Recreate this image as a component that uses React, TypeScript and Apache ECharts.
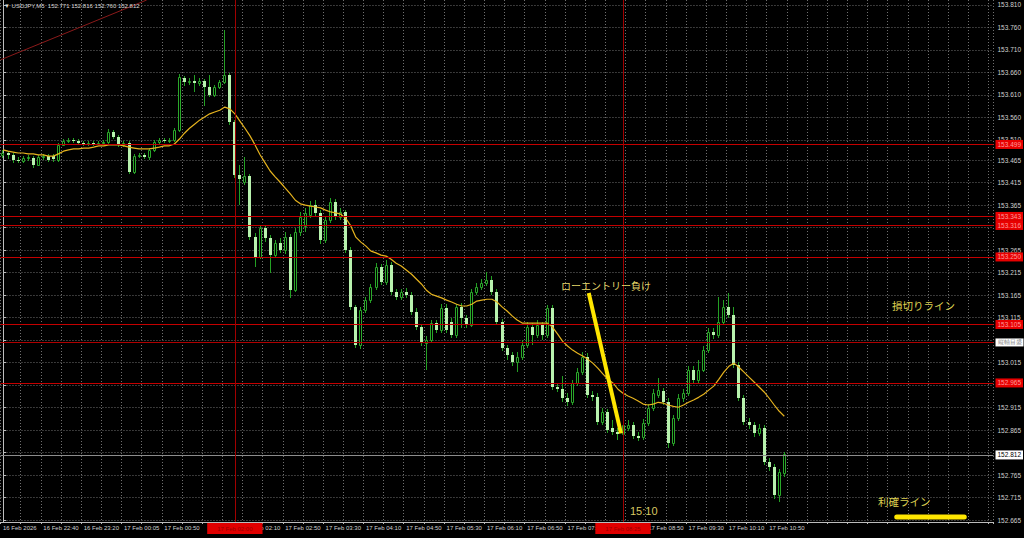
import React, { useEffect, useRef } from 'react';
import * as echarts from 'echarts';

// ---- data ----
const HEADER = '▼ USDJPY,M5  152.771 152.816 152.760 152.812';
const CATEGORY_COUNT = 197;
const START_MINUTES = 22 * 60; // 16 Feb 22:00
const SKIPPED_TIMES = ['00:00', '00:40'];

// [open, close, low, high]
const candles: number[][] = [
  [153.477,153.481,153.470,153.488],[153.481,153.477,153.468,153.486],[153.477,153.465,153.458,153.481],[153.465,153.463,153.458,153.472],
  [153.463,153.470,153.458,153.474],[153.470,153.472,153.463,153.477],[153.470,153.454,153.448,153.474],[153.454,153.472,153.452,153.477],
  [153.472,153.474,153.465,153.479],[153.474,153.465,153.461,153.479],[153.474,153.468,153.461,153.479],[153.465,153.499,153.461,153.504],
  [153.499,153.508,153.497,153.512],[153.508,153.510,153.503,153.514],[153.510,153.508,153.503,153.514],[153.508,153.503,153.499,153.512],
  [153.503,153.501,153.497,153.508],[153.501,153.503,153.497,153.508],[153.503,153.501,153.497,153.508],[153.501,153.503,153.499,153.508],
  [153.503,153.506,153.499,153.510],[153.506,153.528,153.501,153.534],[153.528,153.516,153.512,153.532],[153.516,153.499,153.494,153.521],
  [153.499,153.503,153.494,153.508],[153.503,153.439,153.434,153.508],[153.439,153.474,153.434,153.479],[153.474,153.477,153.470,153.481],
  [153.477,153.472,153.468,153.481],[153.472,153.488,153.465,153.492],[153.488,153.506,153.483,153.510],[153.506,153.510,153.501,153.514],
  [153.510,153.508,153.503,153.514],[153.508,153.510,153.503,153.514],[153.510,153.532,153.506,153.537],[153.532,153.649,153.528,153.656],
  [153.648,153.639,153.630,153.652],[153.639,153.641,153.632,153.648],[153.641,153.636,153.616,153.654],[153.636,153.641,153.630,153.648],
  [153.641,153.628,153.585,153.645],[153.628,153.610,153.605,153.654],[153.610,153.628,153.605,153.632],[153.628,153.639,153.623,153.643],
  [153.639,153.654,153.634,153.754],[153.654,153.550,153.543,153.659],[153.550,153.432,153.425,153.554],[153.432,153.423,153.365,153.454],
  [153.416,153.430,153.410,153.472],[153.430,153.294,153.287,153.434],[153.294,153.250,153.227,153.303],[153.250,153.314,153.245,153.321],
  [153.314,153.292,153.283,153.321],[153.292,153.254,153.214,153.299],[153.254,153.281,153.247,153.287],[153.281,153.265,153.258,153.292],
  [153.265,153.294,153.256,153.305],[153.294,153.176,153.159,153.301],[153.176,153.305,153.172,153.314],[153.305,153.339,153.296,153.350],
  [153.319,153.348,153.305,153.359],[153.343,153.365,153.336,153.374],[153.365,153.348,153.341,153.376],[153.348,153.287,153.279,153.354],
  [153.287,153.332,153.281,153.341],[153.332,153.372,153.325,153.381],[153.372,153.339,153.332,153.379],[153.339,153.350,153.332,153.359],
  [153.350,153.265,153.258,153.354],[153.265,153.139,153.132,153.272],[153.139,153.054,153.047,153.143],[153.054,153.132,153.045,153.139],
  [153.132,153.154,153.125,153.161],[153.154,153.183,153.147,153.190],[153.183,153.227,153.176,153.236],[153.227,153.194,153.187,153.234],
  [153.194,153.232,153.187,153.243],[153.232,153.172,153.165,153.239],[153.172,153.161,153.154,153.179],[153.161,153.172,153.154,153.179],
  [153.172,153.165,153.159,153.181],[153.165,153.127,153.121,153.172],[153.127,153.094,153.087,153.136],[153.094,153.058,153.052,153.101],
  [153.058,153.065,152.998,153.074],[153.065,153.103,153.058,153.110],[153.103,153.087,153.081,153.110],[153.087,153.136,153.081,153.145],
  [153.136,153.087,153.081,153.145],[153.105,153.076,153.070,153.114],[153.076,153.139,153.070,153.145],[153.139,153.114,153.092,153.148],
  [153.114,153.098,153.092,153.121],[153.098,153.172,153.094,153.179],[153.172,153.183,153.165,153.192],[153.183,153.192,153.176,153.201],
  [153.192,153.199,153.185,153.216],[153.199,153.172,153.165,153.208],[153.172,153.105,153.098,153.179],[153.105,153.047,153.041,153.112],
  [153.047,153.032,153.021,153.054],[153.032,153.016,153.007,153.038],[153.016,153.027,152.994,153.038],[153.027,153.054,153.021,153.065],
  [153.054,153.094,153.047,153.105],[153.094,153.076,153.054,153.103],[153.076,153.098,153.070,153.110],[153.098,153.076,153.065,153.105],
  [153.076,153.136,153.070,153.143],[153.136,152.961,152.954,153.143],[152.961,152.956,152.950,152.970],[152.956,152.936,152.927,152.985],
  [152.936,152.927,152.918,152.947],[152.927,152.970,152.921,152.976],[152.970,152.994,152.963,153.003],[152.994,153.027,152.987,153.038],
  [153.027,152.943,152.936,153.036],[152.943,152.939,152.930,152.952],[152.939,152.883,152.876,152.947],[152.883,152.905,152.876,152.914],
  [152.905,152.865,152.858,152.912],[152.870,152.861,152.854,152.887],[152.861,152.856,152.843,152.870],[152.856,152.876,152.850,152.885],
  [152.870,152.876,152.863,152.887],[152.876,152.852,152.845,152.883],[152.852,152.847,152.841,152.861],[152.850,152.881,152.843,152.890],
  [152.881,152.914,152.874,152.923],[152.914,152.947,152.907,152.956],[152.943,152.954,152.936,152.981],[152.952,152.927,152.921,152.959],
  [152.927,152.836,152.825,152.936],[152.836,152.892,152.830,152.898],[152.892,152.936,152.885,152.945],[152.936,152.947,152.927,152.956],
  [152.947,152.998,152.941,153.007],[152.998,152.976,152.967,153.007],[152.976,152.998,152.970,153.021],[152.998,153.043,152.994,153.052],
  [153.043,153.083,153.036,153.092],[153.083,153.076,153.067,153.092],[153.076,153.105,153.070,153.161],[153.105,153.139,153.098,153.154],
  [153.139,153.121,153.114,153.170],[153.121,153.010,153.003,153.139],[153.010,152.936,152.930,153.016],[152.936,152.883,152.876,152.943],
  [152.883,152.876,152.867,152.892],[152.876,152.858,152.850,152.883],[152.858,152.870,152.852,152.878],[152.870,152.794,152.787,152.876],
  [152.794,152.783,152.774,152.803],[152.783,152.721,152.712,152.790],[152.721,152.772,152.705,152.778],[152.771,152.812,152.760,152.816],
];

const maValues: number[] = [
  153.488,153.485,153.483,153.481,153.481,153.479,153.479,153.477,153.477,153.474,153.474,153.479,153.485,153.488,153.490,153.490,
  153.492,153.492,153.494,153.497,153.497,153.499,153.499,153.499,153.497,153.494,153.492,153.490,153.490,153.490,153.492,153.494,
  153.497,153.497,153.501,153.512,153.525,153.536,153.545,153.554,153.561,153.568,153.572,153.576,153.583,153.579,153.568,153.552,
  153.536,153.519,153.499,153.477,153.459,153.441,153.428,153.416,153.403,153.390,153.376,153.368,153.365,153.363,153.361,153.359,
  153.354,153.350,153.348,153.345,153.336,153.319,153.294,153.283,153.274,153.263,153.259,153.254,153.252,153.245,153.236,153.230,
  153.221,153.212,153.201,153.190,153.176,153.167,153.163,153.159,153.154,153.150,153.145,153.141,153.141,153.145,153.152,153.154,
  153.156,153.156,153.150,153.139,153.130,153.119,153.110,153.103,153.103,153.103,153.103,153.103,153.103,153.094,153.079,153.063,
  153.052,153.043,153.036,153.030,153.023,153.014,153.003,152.990,152.978,152.970,152.956,152.947,152.941,152.936,152.930,152.923,
  152.921,152.923,152.927,152.925,152.921,152.918,152.916,152.921,152.927,152.932,152.938,152.945,152.954,152.963,152.978,152.994,
  153.007,153.014,153.005,152.994,152.983,152.972,152.961,152.950,152.936,152.921,152.907,152.896,
];

const Y_MIN = 152.661;
const Y_MAX = 153.821;
const gridPrices = [153.810,153.760,153.710,153.660,153.610,153.560,153.510,153.465,153.415,153.365,153.315,153.265,153.215,153.165,153.115,153.065,153.015,152.965,152.915,152.865,152.815,152.765,152.715,152.665];
const labelPrices = [153.810,153.760,153.710,153.660,153.610,153.560,153.510,153.465,153.415,153.365,153.265,153.215,153.165,153.115,153.015,152.915,152.865,152.765,152.715,152.665];
const redLevels = [153.499, 153.343, 153.316, 153.250, 153.105, 152.965];
const noteLevel = 153.058;
const noteText = '縦軸目盛';
const bidPrice = 152.812;
const verticalLines = [
  { index: 46, label: '17 Feb 02:00' },
  { index: 123, label: '17 Feb 08:25' },
];
// time labels hidden behind the vertical-line time boxes
const coveredLabelIndexes = [40, 120];
// annotation drawings: [barPosition, price]
const entryStroke = [[116.2, 153.170], [122.6, 152.858]];
const takeProfitStroke = [[177.3, 152.672], [190.7, 152.672]];
const trendLine = [[-0.5, 153.688], [28.5, 153.821]];

const LAST_INDEX = candles.length - 1;

function buildTimes(n: number) {
  const out: { day: number; hm: string }[] = [];
  let t = START_MINUTES;
  while (out.length < n) {
    const day = 16 + Math.floor(t / 1440);
    const m = t % 1440;
    const hm = String(Math.floor(m / 60)).padStart(2, '0') + ':' + String(m % 60).padStart(2, '0');
    t += 5;
    if (day === 17 && SKIPPED_TIMES.includes(hm) && t < 1440 + 120) continue;
    out.push({ day, hm });
  }
  return out;
}
const timeInfo = buildTimes(CATEGORY_COUNT);
const times = timeInfo.map((t) => `${t.day} ${t.hm}`);

const AXIS_FONT = 'Liberation Sans, Arial, sans-serif';
const CJK_FONT = '"Noto Sans CJK JP", "Noto Sans", sans-serif';

export default function App() {
  const ref = useRef<HTMLDivElement>(null);
  useEffect(() => {
    if (!ref.current) return;
    const chart = echarts.init(ref.current, undefined, { renderer: 'svg' });

    const candleData = candles.map((c, i) => [i, c[0], c[1], c[2], c[3]]);

    const priceBox = (text: string, bg: string, fg: string, size = 6.5) => ({
      show: true,
      position: 'end',
      formatter: text,
      backgroundColor: bg,
      color: fg,
      fontSize: size,
      fontFamily: AXIS_FONT,
      padding: [1, 2, 1, 2],
      distance: 2,
    });

    const option: any = {
      animation: false,
      backgroundColor: '#000000',
      grid: { left: 0, right: 30, top: 0, bottom: 16, containLabel: false },
      xAxis: [
        {
          type: 'category',
          data: times,
          boundaryGap: true,
          axisLine: { show: true, lineStyle: { color: '#bdbdbd', width: 1 } },
          axisTick: { show: true, interval: 3, length: 2, lineStyle: { color: '#bdbdbd' } },
          axisLabel: {
            interval: 7,
            align: 'left',
            margin: 3,
            fontSize: 6,
            color: '#d0d0d0',
            fontFamily: AXIS_FONT,
            formatter: (_v: string, i: number) => {
              if (i > LAST_INDEX || coveredLabelIndexes.includes(i)) return '';
              if (i === 0) return '16 Feb 2026';
              const t = timeInfo[i];
              return `${t.day} Feb ${t.hm}`;
            },
          },
          splitLine: { show: true, interval: 3, lineStyle: { color: '#707070', width: 1, type: [1, 2] } },
        },
        { type: 'value', min: -0.5, max: CATEGORY_COUNT - 0.5, show: false },
      ],
      yAxis: {
        type: 'value',
        position: 'right',
        min: Y_MIN,
        max: Y_MAX,
        axisLine: { show: true, lineStyle: { color: '#bdbdbd', width: 1 } },
        axisTick: { show: true, customValues: gridPrices, length: 3, lineStyle: { color: '#bdbdbd' } },
        axisLabel: {
          customValues: labelPrices,
          formatter: (v: number) => v.toFixed(3),
          fontSize: 6.5,
          color: '#d0d0d0',
          fontFamily: AXIS_FONT,
          margin: 4,
        },
        splitLine: { show: true, lineStyle: { color: '#707070', width: 1, type: [1, 2] } },
      },
      series: [
        {
          type: 'custom',
          name: 'candles',
          xAxisIndex: 0,
          data: candleData,
          encode: { x: 0, y: [1, 2, 3, 4] },
          clip: true,
          z: 3,
          renderItem: (_p: any, api: any) => {
            const i = api.value(0);
            const o = api.value(1);
            const c = api.value(2);
            const l = api.value(3);
            const h = api.value(4);
            const po = api.coord([i, o]);
            const pc = api.coord([i, c]);
            const pl = api.coord([i, l]);
            const ph = api.coord([i, h]);
            const cx = Math.floor(po[0]) + 0.5;
            const top = Math.round(Math.min(po[1], pc[1]));
            const bot = Math.round(Math.max(po[1], pc[1]));
            const bull = c >= o;
            const wick = {
              type: 'line',
              shape: { x1: cx, y1: Math.round(ph[1]), x2: cx, y2: Math.round(pl[1]) },
              style: { stroke: '#23a023', lineWidth: 1 },
            };
            const body = bull
              ? {
                  type: 'rect',
                  shape: { x: cx - 1, y: top + 0.5, width: 2, height: Math.max(1, bot - top) },
                  style: { fill: '#000000', stroke: '#2aa82a', lineWidth: 1 },
                }
              : {
                  type: 'rect',
                  shape: { x: cx - 1.5, y: top, width: 3, height: Math.max(1, bot - top) },
                  style: { fill: '#b8f2ae', stroke: 'none' },
                };
            return { type: 'group', children: [wick, body] };
          },
        },
        {
          type: 'line',
          name: 'MA',
          data: maValues,
          symbol: 'none',
          z: 4,
          lineStyle: { color: '#e6b31e', width: 1.2 },
          markLine: {
            silent: true,
            symbol: ['none', 'none'],
            animation: false,
            data: [
              ...redLevels.map((v) => ({
                yAxis: v,
                lineStyle: { color: '#c40000', width: 1, type: 'solid' },
                label: priceBox(v.toFixed(3), '#e80000', '#ff9a9a'),
              })),
              {
                yAxis: noteLevel,
                lineStyle: { color: '#b00000', width: 1, type: 'solid' },
                label: priceBox(noteText, '#ffffff', '#8a8a8a', 5.5),
              },
              {
                yAxis: bidPrice,
                lineStyle: { color: '#8c8c8c', width: 1, type: 'solid' },
                label: priceBox(bidPrice.toFixed(3), '#ffffff', '#000000'),
              },
              ...verticalLines.map((v) => ({
                xAxis: times[v.index],
                lineStyle: { color: '#a00000', width: 1, type: 'solid' },
                label: {
                  show: true,
                  position: 'start',
                  formatter: v.label,
                  backgroundColor: '#e00000',
                  color: '#9a0000',
                  fontSize: 6,
                  fontFamily: AXIS_FONT,
                  padding: [3, 10, 2, 10],
                  distance: 1,
                },
              })),
            ],
          },
        },
        {
          type: 'line',
          name: 'trend',
          xAxisIndex: 1,
          data: trendLine,
          symbol: 'none',
          z: 2,
          lineStyle: { color: '#8b1a1a', width: 1 },
        },
        {
          type: 'line',
          name: 'entry',
          xAxisIndex: 1,
          data: entryStroke,
          symbol: 'none',
          z: 6,
          lineStyle: { color: '#ffe600', width: 4, cap: 'butt' },
        },
        {
          type: 'line',
          name: 'takeProfit',
          xAxisIndex: 1,
          data: takeProfitStroke,
          symbol: 'none',
          z: 6,
          lineStyle: { color: '#ffe600', width: 5, cap: 'round' },
        },
      ],
      graphic: [
        {
          type: 'text',
          left: 4,
          top: 3,
          z: 10,
          style: { text: HEADER, fill: '#d8d8d8', fontSize: 6, fontFamily: AXIS_FONT },
        },
        {
          type: 'text',
          left: 561,
          top: 280,
          z: 10,
          style: { text: 'ローエントリー負け', fill: '#e6d66a', fontSize: 10, fontFamily: CJK_FONT },
        },
        {
          type: 'text',
          left: 892,
          top: 300,
          z: 10,
          style: { text: '損切りライン', fill: '#ddd050', fontSize: 10.5, fontFamily: CJK_FONT },
        },
        {
          type: 'text',
          left: 878,
          top: 496,
          z: 10,
          style: { text: '利確ライン', fill: '#ddd050', fontSize: 10.5, fontFamily: CJK_FONT },
        },
        {
          type: 'text',
          left: 630,
          top: 505,
          z: 10,
          style: { text: '15:10', fill: '#d8c860', fontSize: 11, fontFamily: AXIS_FONT },
        },
      ],
    };

    chart.setOption(option);
    return () => chart.dispose();
  }, []);

  return (
    <div
      ref={ref}
      style={{ position: 'fixed', left: 0, top: 0, width: 1024, height: 538, background: '#000' }}
    />
  );
}
